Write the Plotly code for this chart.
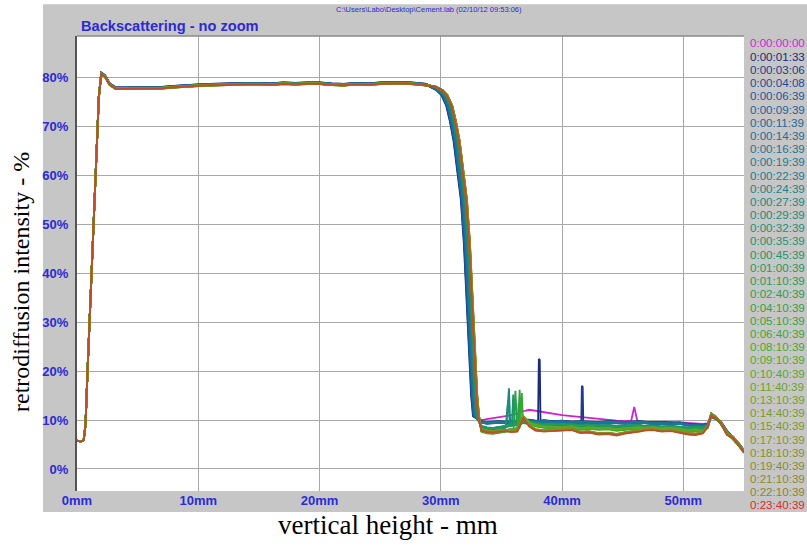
import plotly.graph_objects as go

# ---- elapsed-time labels and trace colours (scan 1 .. scan 36) ----
times = [
    "0:00:00:00", "0:00:01:33", "0:00:03:06", "0:00:04:08", "0:00:06:39", "0:00:09:39",
    "0:00:11:39", "0:00:14:39", "0:00:16:39", "0:00:19:39", "0:00:22:39", "0:00:24:39",
    "0:00:27:39", "0:00:29:39", "0:00:32:39", "0:00:35:39", "0:00:45:39", "0:01:00:39",
    "0:01:10:39", "0:02:40:39", "0:04:10:39", "0:05:10:39", "0:06:40:39", "0:08:10:39",
    "0:09:10:39", "0:10:40:39", "0:11:40:39", "0:13:10:39", "0:14:40:39", "0:15:40:39",
    "0:17:10:39", "0:18:10:39", "0:19:40:39", "0:21:10:39", "0:22:10:39", "0:23:40:39",
]
colors = [
    "#d21fd2", "#1c2a7a", "#1f3c8c", "#1f4a98", "#1f5599", "#1e5f9c",
    "#1e669a", "#1d6d99", "#1c7396", "#1b7893", "#1a7d8e", "#1a8288",
    "#1a8782", "#1b8b7b", "#1c8f74", "#1e936c", "#209663", "#239a5a",
    "#269d51", "#2aa048", "#2ea33f", "#34a537", "#3ca730", "#46a82b",
    "#52a828", "#5ea726", "#68a424", "#72a024", "#7a9c24", "#809824",
    "#869425", "#8a9026", "#8c8c27", "#8e8828", "#8e8428", "#e02828",
]
group = ["magenta"] + ["blue"] * 9 + ["teal"] * 8 + ["green"] * 8 + ["olive"] * 10

# axis ticks
x_ticks = [0, 10, 20, 30, 40, 50]
x_tick_text = ["0mm", "10mm", "20mm", "30mm", "40mm", "50mm"]
y_ticks = [0, 10, 20, 30, 40, 50, 60, 70, 80]
y_tick_text = ["0%", "10%", "20%", "30%", "40%", "50%", "60%", "70%", "80%"]

# ---- bottom of the cell: rise and plateau (mm, %) ----
plateau_x = [0.0, 0.3, 0.55, 0.7, 0.9, 1.2, 1.4, 1.6, 1.8, 2.0, 2.3, 2.7, 3.2, 4.0,
             5.0, 6.0, 7.0, 8.0, 9.0, 10.0, 11.0, 12.0, 13.0, 14.0, 15.0, 16.0,
             17.0, 18.0, 19.0, 20.0, 21.0, 22.0, 23.0, 24.0, 25.0, 26.0, 27.0, 28.0, 28.8]
plateau_y = [5.8, 5.6, 5.9, 9.0, 22.0, 40.0, 53.0, 66.0, 76.0, 80.8, 80.3, 78.6, 77.8, 77.8,
             77.8, 77.9, 77.9, 78.1, 78.3, 78.4, 78.5, 78.6, 78.6, 78.7, 78.7, 78.6,
             78.8, 78.7, 78.8, 78.8, 78.6, 78.5, 78.7, 78.6, 78.8, 78.8, 78.9, 78.7, 78.5]
plateau_offset = [0.1, 0.2, 0.15, 0.1, 0.2, 0.05, 0.15, 0.1, 0.0, 0.1,
                  0.0, 0.05, -0.05, 0.0, 0.05, -0.1, 0.0, -0.05,
                  -0.1, 0.0, -0.15, -0.05, -0.1, 0.0, -0.15, -0.1,
                  -0.05, -0.1, 0.0, -0.1, -0.05, -0.15, -0.1, 0.0, -0.05, -0.1]

# ---- sedimentation front ----
front_x = [29.5, 30.1, 30.5, 30.9, 31.2, 31.5, 31.8, 32.1, 32.35, 32.55, 32.75, 32.95, 33.1]
front_y = [78.2, 77.4, 76.4, 74.2, 71.0, 67.0, 61.0, 55.0, 46.0, 35.0, 24.0, 15.0, 10.8]
front_shift = [-0.15,
               -0.45, -0.40, -0.42, -0.35, -0.38, -0.30, -0.32, -0.28, -0.25,
               -0.20, -0.18, -0.15, -0.12, -0.10, -0.08, -0.06, -0.05,
               -0.02, 0.00, 0.02, 0.03, 0.05, 0.04, 0.06, 0.05,
               0.04, 0.03, 0.02, 0.03, 0.01, 0.02, 0.00, 0.01, 0.00, -0.02]

# ---- clarified zone (top of the cell) ----
tail_x = [33.35, 33.8, 34.3, 34.8, 35.3, 35.8, 36.3, 36.8, 37.3, 37.8, 38.5, 39.2, 40.0,
          40.8, 41.5, 42.2, 43.0, 43.8, 44.5, 45.2, 46.4, 46.8, 47.5, 48.2, 49.0, 49.7,
          50.4, 51.0, 51.6, 52.0, 52.3, 52.7, 53.1, 53.6, 54.1, 54.6, 55.0]
tail_magenta = [10.0, 10.2, 10.4, 10.5, 10.8, 11.0, 11.3, 11.8, 12.1, 11.9, 11.6, 11.2, 11.0,
                10.8, 10.6, 10.4, 10.2, 10.0, 9.9, 9.8, 9.7, 9.7, 9.7, 9.6, 9.6, 9.5,
                9.4, 9.3, 9.2, 9.3, 10.6, 10.2, 9.4, 7.5, 6.4, 5.0, 3.6]
tail_blue = [9.6, 9.4, 9.5, 9.6, 9.5, 9.6, 9.7, 9.8, 9.9, 9.7, 9.8, 9.6, 9.7,
             9.5, 9.6, 9.5, 9.4, 9.6, 9.5, 9.4, 9.6, 9.5, 9.3, 9.4, 9.2, 9.3,
             9.0, 8.9, 8.8, 9.0, 10.8, 10.3, 9.5, 7.6, 6.4, 5.0, 3.6]
tail_teal = [8.6, 8.3, 8.2, 8.4, 8.6, 9.0, 9.2, 9.6, 9.4, 9.2, 9.0, 9.1, 8.9,
             9.0, 8.8, 8.9, 8.7, 8.8, 8.6, 8.7, 8.8, 8.6, 8.7, 8.5, 8.6, 8.4,
             8.3, 8.5, 8.4, 8.6, 11.0, 10.4, 9.4, 7.4, 6.3, 4.9, 3.5]
tail_green = [7.8, 7.5, 7.4, 7.6, 7.8, 8.0, 8.2, 10.6, 9.4, 8.9, 8.6, 8.5, 8.4,
              8.6, 8.2, 8.4, 8.2, 8.3, 8.0, 8.2, 8.4, 8.3, 8.4, 8.2, 8.3, 8.1,
              7.8, 8.0, 7.6, 8.6, 11.2, 10.5, 9.3, 7.3, 6.2, 4.8, 3.5]
tail_olive = [8.0, 7.7, 7.6, 7.8, 7.9, 7.7, 7.8, 10.5, 8.8, 8.0, 7.8, 7.9, 8.0,
              8.1, 7.5, 7.6, 7.2, 7.3, 7.0, 7.4, 7.8, 8.0, 8.1, 7.8, 7.9, 7.6,
              7.2, 7.1, 7.4, 8.7, 11.1, 10.5, 9.4, 7.1, 6.5, 4.9, 3.5]
tail_offset = [0.0,
               0.2, 0.1, 0.0, -0.1, 0.15, -0.05, 0.05, -0.15, 0.0,
               0.2, 0.0, -0.2, 0.1, -0.1, 0.15, -0.15, 0.05,
               0.2, 0.1, -0.1, 0.0, -0.2, 0.15, -0.05, 0.1,
               0.15, 0.05, 0.1, -0.05, 0.0, 0.1, -0.1, 0.05, -0.05, -0.15]
tails = {"magenta": tail_magenta, "blue": tail_blue, "teal": tail_teal,
         "green": tail_green, "olive": tail_olive}

# ---- bubbles / particles passing the detector: (scan, x mm, %) ----
spikes = [
    (0, [45.7, 45.95, 46.2], [9.9, 12.7, 9.8]),
    (1, [38.02, 38.08, 38.16, 38.22], [9.8, 22.5, 22.3, 9.8]),
    (2, [41.58, 41.63, 41.7, 41.75], [9.7, 17.0, 16.8, 9.6]),
    (12, [35.4, 35.62, 35.72], [8.8, 16.5, 9.5]),
    (14, [35.35, 35.55, 35.7], [8.5, 14.0, 9.0]),
    (15, [35.85, 35.97, 36.1], [8.9, 15.2, 9.4]),
    (16, [36.35, 36.42, 36.55], [9.0, 13.5, 9.2]),
    (18, [36.0, 36.15, 36.25], [8.2, 16.0, 8.8]),
    (20, [36.35, 36.5, 36.62], [8.3, 16.2, 9.0]),
    (22, [36.5, 36.68, 36.78], [8.4, 15.5, 9.6]),
]

BLUE_TXT = "#2b2bd6"
SANS = "Liberation Sans, Arial, sans-serif"
SERIF = "Liberation Serif, Times New Roman, serif"

fig = go.Figure()

for i, label in enumerate(times):
    xs = list(plateau_x)
    ys = [v + plateau_offset[i] if v > 70 else v for v in plateau_y]
    xs += [fx + front_shift[i] for fx in front_x]
    ys += list(front_y)
    pts = [(tx, ty + tail_offset[i]) for tx, ty in zip(tail_x, tails[group[i]])]
    for s, sx, sy in spikes:
        if s == i:
            pts += list(zip(sx, sy))
    pts.sort()
    xs += [p[0] for p in pts]
    ys += [p[1] for p in pts]
    fig.add_trace(go.Scatter(
        x=xs, y=ys, mode="lines", name=label, showlegend=False,
        line=dict(color=colors[i], width=1.8),
        opacity=0.6 if i == len(times) - 1 else 1.0,
    ))

# grey instrument panel behind the plot, white plotting area on top of it
fig.add_shape(type="rect", xref="paper", yref="paper", x0=-0.051, x1=1.1, y0=-0.046, y1=1.070,
              fillcolor="#c6c6c6", line=dict(width=0), layer="below")
fig.add_shape(type="rect", xref="paper", yref="paper", x0=0, x1=1, y0=0, y1=1,
              fillcolor="white", line=dict(width=0), layer="below")
fig.add_shape(type="line", xref="paper", yref="paper", x0=0, x1=1, y0=1, y1=1,
              line=dict(color="#8a8a8a", width=1.5))

# elapsed-time legend as coloured text
for i, label in enumerate(times):
    py = 43 + i * 13.2
    fig.add_annotation(text=label, xref="paper", yref="paper",
                       x=(748 - 77) / 667, y=(491 - py) / 455,
                       xanchor="left", yanchor="middle", showarrow=False,
                       font=dict(family=SANS, size=11.6, color=colors[i]))

fig.add_annotation(text="<b>Backscattering - no zoom</b>", xref="paper", yref="paper",
                   x=(79 - 77) / 667, y=(491 - 26) / 455, xanchor="left", yanchor="middle",
                   showarrow=False, font=dict(family=SANS, size=14.6, color=BLUE_TXT))
fig.add_annotation(text="C:\\Users\\Labo\\Desktop\\Cement.lab (02/10/12 09:53:06)",
                   xref="paper", yref="paper", x=(429 - 77) / 667, y=(491 - 10) / 455,
                   xanchor="center", yanchor="middle", showarrow=False,
                   font=dict(family=SANS, size=7.5, color=BLUE_TXT))
fig.add_annotation(text="retrodiffusion intensity - %", xref="paper", yref="paper",
                   x=(21 - 77) / 667, y=(491 - 282) / 455, textangle=-90,
                   xanchor="center", yanchor="middle", showarrow=False,
                   font=dict(family=SERIF, size=24, color="black"))
fig.add_annotation(text="vertical height - mm", xref="paper", yref="paper",
                   x=(388 - 77) / 667, y=(491 - 525) / 455,
                   xanchor="center", yanchor="middle", showarrow=False,
                   font=dict(family=SERIF, size=27, color="black"))

tick_font = dict(family=SANS, size=13, color=BLUE_TXT)
fig.update_xaxes(range=[0, 55], tickmode="array", tickvals=x_ticks,
                 ticktext=["<b>%s</b>" % t for t in x_tick_text],
                 showgrid=True, gridcolor="#a8a8a8", gridwidth=1.2, zeroline=False,
                 showline=False, ticks="", tickfont=tick_font)
fig.update_yaxes(range=[-4.5, 88.5], tickmode="array", tickvals=y_ticks,
                 ticktext=["<b>%s</b>" % t for t in y_tick_text],
                 showgrid=True, gridcolor="#a8a8a8", gridwidth=1.2,
                 zeroline=False, showline=True, linecolor="#555555", linewidth=2,
                 ticks="", ticklabelstandoff=4, tickfont=tick_font)

fig.update_layout(
    width=807, height=547,
    margin=dict(l=77, r=63, t=36, b=56),
    paper_bgcolor="white", plot_bgcolor="white",
    showlegend=False,
)

fig.write_html("out.html")
